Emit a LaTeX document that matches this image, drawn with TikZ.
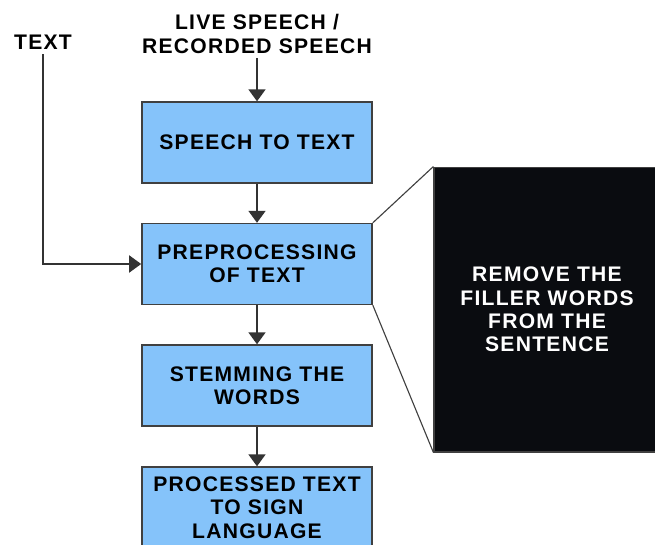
\documentclass[tikz,border=0pt]{standalone}
\usepackage{fontspec}
\newfontfamily\flowfont{Liberation Sans}[LetterSpace=6]
\usepackage{tikz}
\usetikzlibrary{arrows.meta}
\definecolor{boxblue}{RGB}{133,195,250}
\definecolor{boxline}{RGB}{64,64,64}
\definecolor{notebg}{RGB}{10,12,16}
\tikzset{
    flowtext/.style={font=\flowfont\bfseries\fontsize{15}{16.6}\selectfont, align=center},
    blockbox/.style={flowtext, draw=boxline, line width=1.1pt, fill=boxblue,
        minimum width=5.75cm, minimum height=2.02cm, inner sep=0pt},
    flowarrow/.style={draw=black!80, line width=1.4pt,
        -{Triangle[width=12pt,length=8.5pt]}},
}

\begin{document}
\begin{tikzpicture}[x=0.025cm,y=-0.025cm]
    \useasboundingbox (0,0) rectangle (655,544);
    \node[flowtext] (text) at (43,42) {TEXT};
    \node[flowtext] (live) at (257,34) {LIVE SPEECH /\\RECORDED SPEECH};
    \foreach \n/\y/\t in {stt/142.5/{SPEECH TO TEXT},
                          pre/264/{PREPROCESSING\\OF TEXT},
                          stem/385.5/{STEMMING THE\\WORDS},
                          sign/507.5/{PROCESSED TEXT\\TO SIGN\\LANGUAGE}} {
        \node[blockbox] (\n) at (257,\y) {\t};
    }
    \node[flowtext, text=white, fill=notebg, draw=boxline, line width=0.8pt,
          minimum width=5.65cm, minimum height=7.12cm] (note) at (547,309.5)
        {REMOVE THE\\FILLER WORDS\\FROM THE\\SENTENCE};
    \draw[flowarrow] (live) -- (stt);
    \draw[flowarrow] (text.south) |- (pre.west);
    \foreach \a/\b in {stt/pre,pre/stem,stem/sign} {
        \draw[flowarrow] (\a) -- (\b);
    }
    \draw[line width=0.8pt, boxline] (pre.north east) -- (note.north west);
    \draw[line width=0.8pt, boxline] (pre.south east) -- (note.south west);
\end{tikzpicture}
\end{document}
